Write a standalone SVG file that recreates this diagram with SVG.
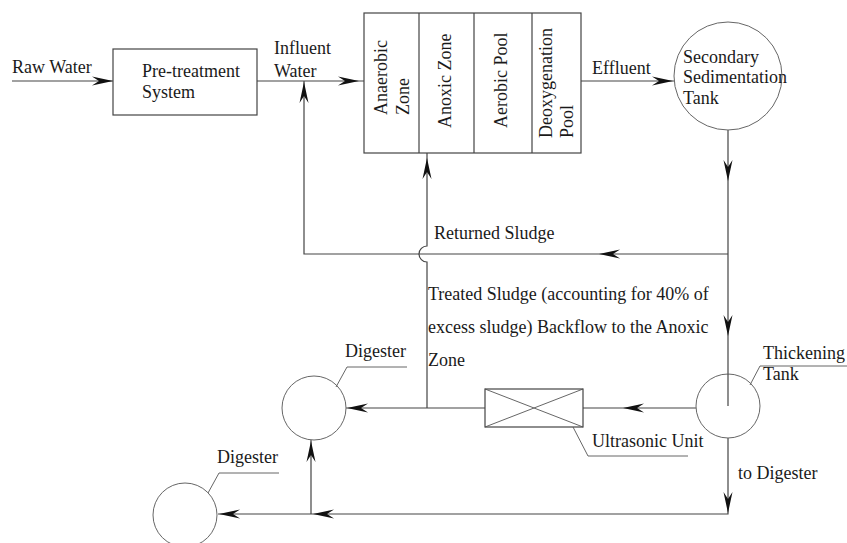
<svg xmlns="http://www.w3.org/2000/svg" xmlns:xlink="http://www.w3.org/1999/xlink" width="847" height="543" viewBox="0 0 847 543">
<style>
text{font-family:"Liberation Serif","Times New Roman",serif;font-size:18px;fill:#1a1a1a}
.ln{fill:none;stroke:#444;stroke-width:1.2}
.cir{fill:#fff;stroke:#666;stroke-width:1}
.box{fill:#fff;stroke:#444;stroke-width:1.2}
.ld{fill:none;stroke:#555;stroke-width:0.9}
.ah{fill:#111;stroke:none}
</style>
<defs>
<path id="ah" d="M0,0 L-21,-4.5 L-14,0 L-21,4.5 Z"/>
</defs>
<rect width="847" height="543" fill="#fff"/>
<g id="connectors">
<path class="ln" d="M12,81 H113"/>
<path class="ln" d="M257,81 H364"/>
<path class="ln" d="M581,81 H674"/>
<path class="ln" d="M728,130 V406"/>
<path class="ln" d="M728,254 H304 V81"/>
<path class="ln" d="M427,408 V262 A8,8 0 0 1 427,246 V153"/>
<path class="ln" d="M696,408 H583"/>
<path class="ln" d="M485,408 H346"/>
<path class="ln" d="M728,438 V514 H218"/>
<path class="ln" d="M311,514 V440"/>
<use class="ah" href="#ah" transform="translate(113,81)"/>
<use class="ah" href="#ah" transform="translate(359,81)"/>
<use class="ah" href="#ah" transform="translate(304,82) rotate(-90)"/>
<use class="ah" href="#ah" transform="translate(673,81)"/>
<use class="ah" href="#ah" transform="translate(728,181) rotate(90)"/>
<use class="ah" href="#ah" transform="translate(599,254) rotate(180)"/>
<use class="ah" href="#ah" transform="translate(427,158) rotate(-90)"/>
<use class="ah" href="#ah" transform="translate(728,336) rotate(90)"/>
<use class="ah" href="#ah" transform="translate(623,408) rotate(180)"/>
<use class="ah" href="#ah" transform="translate(347,408) rotate(180)"/>
<use class="ah" href="#ah" transform="translate(728,513) rotate(90)"/>
<use class="ah" href="#ah" transform="translate(313,514) rotate(180)"/>
<use class="ah" href="#ah" transform="translate(219,514) rotate(180)"/>
<use class="ah" href="#ah" transform="translate(311,441) rotate(-90)"/>
</g>
<g id="raw-water"><text x="12" y="73">Raw Water</text></g>
<g id="pretreatment">
<rect class="box" x="113" y="49" width="144" height="66"/>
<text x="142" y="77">Pre-treatment</text>
<text x="142" y="98">System</text>
</g>
<g id="influent"><text x="274" y="54">Influent</text><text x="274" y="77">Water</text></g>
<g id="reactor">
<rect class="box" x="364" y="13" width="217" height="140"/>
<path class="ln" d="M419,13 V153 M474,13 V153 M532,13 V153"/>
<text transform="translate(387,115) rotate(-90)">Anaerobic</text>
<text transform="translate(409,115) rotate(-90)">Zone</text>
<text transform="translate(451,128) rotate(-90)">Anoxic Zone</text>
<text transform="translate(507,128) rotate(-90)">Aerobic Pool</text>
<text transform="translate(552,138) rotate(-90)">Deoxygenation</text>
<text transform="translate(573,138) rotate(-90)">Pool</text>
</g>
<g id="effluent"><text x="592" y="74">Effluent</text></g>
<g id="sedimentation">
<circle class="cir" cx="728" cy="76" r="54"/>
<text x="683" y="63">Secondary</text>
<text x="683" y="83">Sedimentation</text>
<text x="683" y="104">Tank</text>
</g>
<g id="returned-sludge"><text x="434" y="239">Returned Sludge</text></g>
<g id="treated-sludge">
<text x="428" y="300">Treated Sludge (accounting for 40% of</text>
<text x="428" y="333">excess sludge) Backflow to the Anoxic</text>
<text x="428" y="366">Zone</text>
</g>
<g id="thickening">
<circle class="cir" cx="728" cy="406" r="32"/>
<path class="ln" d="M728,374 V406"/>
<path class="ld" d="M750,385 L760,366 H847"/>
<text x="763" y="359">Thickening</text>
<text x="763" y="380">Tank</text>
</g>
<g id="ultrasonic">
<rect class="box" x="485" y="389" width="98" height="38"/>
<path class="ld" d="M485,389 L583,427 M485,427 L583,389"/>
<path class="ld" d="M573,427 L588,456 H688"/>
<text x="592" y="447">Ultrasonic Unit</text>
</g>
<g id="to-digester"><text x="738" y="479">to Digester</text></g>
<g id="digester1">
<circle class="cir" cx="314" cy="408" r="32"/>
<path class="ld" d="M336,387 L347,367 H407"/>
<text x="345" y="357">Digester</text>
</g>
<g id="digester2">
<circle class="cir" cx="185" cy="515" r="32"/>
<path class="ld" d="M208,493 L219,473 H279"/>
<text x="217" y="463">Digester</text>
</g>
</svg>
